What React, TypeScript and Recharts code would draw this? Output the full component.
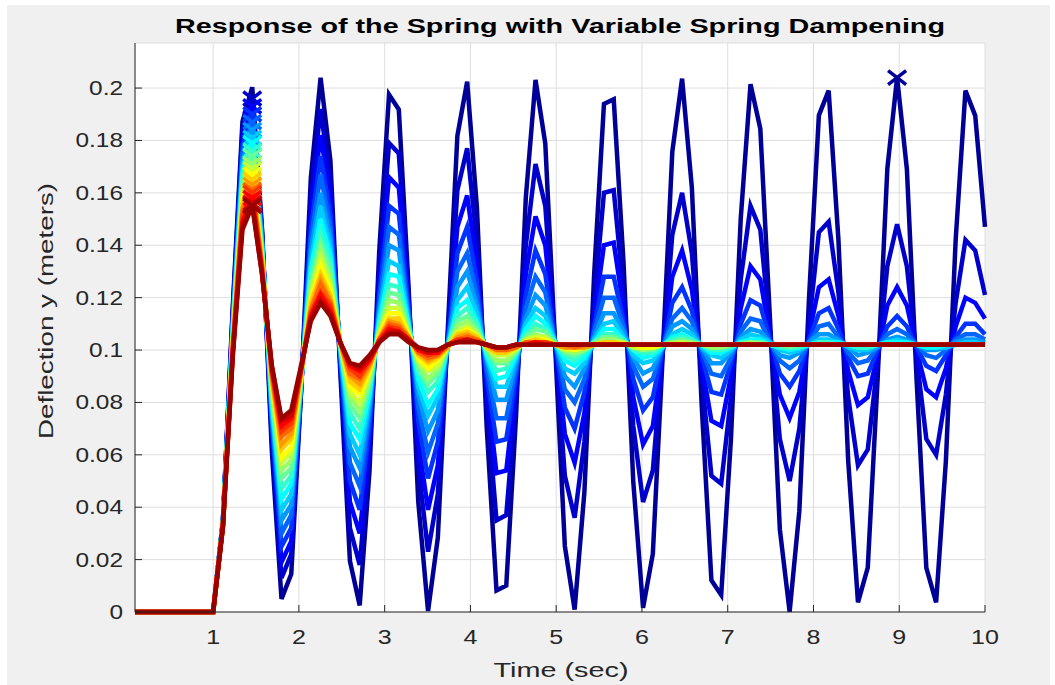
import React from 'react';
import { LineChart, Line, XAxis, YAxis, CartesianGrid } from 'recharts';

// sample times (sec)
const time = [
  0.089, 1.0, 1.114, 1.228, 1.342, 1.456, 1.57, 1.684, 1.797, 1.911, 2.025,
  2.139, 2.253, 2.367, 2.481, 2.595, 2.709, 2.823, 2.937, 3.051, 3.165,
  3.278, 3.392, 3.506, 3.62, 3.734, 3.848, 3.962, 4.076, 4.19, 4.304,
  4.418, 4.532, 4.646, 4.759, 4.873, 4.987, 5.101, 5.215, 5.329, 5.443,
  5.557, 5.671, 5.785, 5.899, 6.013, 6.127, 6.241, 6.354, 6.468, 6.582,
  6.696, 6.81, 6.924, 7.038, 7.152, 7.266, 7.38, 7.494, 7.608, 7.722,
  7.835, 7.949, 8.063, 8.177, 8.291, 8.405, 8.519, 8.633, 8.747, 8.861,
  8.975, 9.089, 9.203, 9.316, 9.43, 9.544, 9.658, 9.772, 9.886, 10.0,
];

// deflection (m), one array per damping value, least damped first
const d01 = [
  0, 0, 0.0349, 0.1157, 0.1872, 0.2003, 0.1463, 0.0619, 0.005, 0.0145, 0.0838,
  0.1656, 0.2039, 0.1725, 0.0928, 0.0195, 0.0025, 0.0537, 0.1379, 0.1975, 0.1918,
  0.1246, 0.042, 0.0004, 0.0283, 0.1066, 0.1818, 0.2024, 0.1543, 0.0705, 0.0082,
  0.0101, 0.0749, 0.1582, 0.2031, 0.1788, 0.102, 0.0252, 0.0009, 0.0458, 0.1291,
  0.1939, 0.1957, 0.1335, 0.0497, 0.0016, 0.0222, 0.0974, 0.1757, 0.2036, 0.162,
  0.0793, 0.0121, 0.0065, 0.0662, 0.1503, 0.2015, 0.1845, 0.1111, 0.0315, 0.0001,
  0.0385, 0.1203, 0.1896, 0.199, 0.1421, 0.0577, 0.0037, 0.0169, 0.0883, 0.1691,
  0.204, 0.1691, 0.0883, 0.0168, 0.0037, 0.0577, 0.1421, 0.199, 0.1895, 0.147,
];
const d02 = [
  0, 0, 0.035, 0.114, 0.184, 0.196, 0.145, 0.066, 0.013, 0.022, 0.084,
  0.158, 0.192, 0.164, 0.095, 0.032, 0.018, 0.061, 0.13, 0.179, 0.175,
  0.121, 0.056, 0.023, 0.045, 0.104, 0.161, 0.177, 0.141, 0.08, 0.035,
  0.037, 0.082, 0.14, 0.171, 0.155, 0.103, 0.052, 0.036, 0.065, 0.118,
  0.16, 0.161, 0.122, 0.071, 0.042, 0.054, 0.099, 0.144, 0.16, 0.137,
  0.09, 0.052, 0.049, 0.082, 0.127, 0.155, 0.146, 0.107, 0.066, 0.05,
  0.07, 0.11, 0.145, 0.149, 0.122, 0.082, 0.056, 0.062, 0.095, 0.132,
  0.148, 0.132, 0.097, 0.066, 0.06, 0.083, 0.118, 0.142, 0.138, 0.121,
];
const d03 = [
  0, 0, 0.034, 0.113, 0.18, 0.193, 0.144, 0.069, 0.019, 0.027, 0.085,
  0.152, 0.182, 0.158, 0.097, 0.042, 0.03, 0.066, 0.125, 0.166, 0.162,
  0.118, 0.065, 0.039, 0.056, 0.103, 0.147, 0.159, 0.132, 0.086, 0.053,
  0.054, 0.087, 0.129, 0.151, 0.14, 0.103, 0.068, 0.057, 0.076, 0.113,
  0.14, 0.141, 0.116, 0.082, 0.064, 0.071, 0.099, 0.128, 0.138, 0.123,
  0.095, 0.073, 0.071, 0.09, 0.116, 0.132, 0.127, 0.105, 0.083, 0.074,
  0.084, 0.106, 0.124, 0.127, 0.113, 0.092, 0.079, 0.082, 0.098, 0.117,
  0.124, 0.117, 0.1, 0.085, 0.082, 0.093, 0.109, 0.12, 0.118, 0.112,
];
const d04 = [
  0, 0, 0.034, 0.111, 0.178, 0.19, 0.143, 0.072, 0.025, 0.032, 0.086,
  0.146, 0.174, 0.152, 0.098, 0.05, 0.039, 0.071, 0.121, 0.155, 0.152,
  0.116, 0.073, 0.051, 0.065, 0.102, 0.137, 0.147, 0.126, 0.09, 0.065,
  0.066, 0.09, 0.121, 0.138, 0.129, 0.103, 0.078, 0.07, 0.084, 0.109,
  0.128, 0.128, 0.111, 0.089, 0.077, 0.082, 0.1, 0.118, 0.124, 0.115,
  0.098, 0.084, 0.083, 0.095, 0.11, 0.119, 0.117, 0.104, 0.091, 0.086,
  0.092, 0.104, 0.114, 0.116, 0.108, 0.097, 0.09, 0.091, 0.1, 0.109,
  0.113, 0.109, 0.101, 0.094, 0.092, 0.098, 0.105, 0.11, 0.11, 0.106,
];
const d05 = [
  0, 0, 0.034, 0.11, 0.175, 0.187, 0.142, 0.074, 0.03, 0.037, 0.086,
  0.142, 0.167, 0.147, 0.099, 0.057, 0.048, 0.075, 0.118, 0.147, 0.144,
  0.114, 0.078, 0.061, 0.072, 0.102, 0.13, 0.137, 0.121, 0.093, 0.074,
  0.074, 0.093, 0.116, 0.128, 0.122, 0.103, 0.085, 0.08, 0.089, 0.107,
  0.12, 0.12, 0.109, 0.094, 0.086, 0.089, 0.101, 0.112, 0.116, 0.111,
  0.1, 0.091, 0.09, 0.097, 0.107, 0.112, 0.111, 0.103, 0.096, 0.093,
  0.096, 0.103, 0.109, 0.11, 0.105, 0.099, 0.095, 0.096, 0.101, 0.106,
  0.108, 0.106, 0.102, 0.098, 0.097, 0.1, 0.104, 0.106, 0.106, 0.104,
];
const d06 = [
  0, 0, 0.034, 0.109, 0.172, 0.184, 0.141, 0.076, 0.035, 0.041, 0.087,
  0.138, 0.16, 0.143, 0.1, 0.063, 0.055, 0.078, 0.115, 0.14, 0.138,
  0.112, 0.083, 0.069, 0.077, 0.102, 0.124, 0.13, 0.117, 0.096, 0.081,
  0.081, 0.095, 0.112, 0.121, 0.117, 0.103, 0.09, 0.086, 0.093, 0.105,
  0.114, 0.114, 0.107, 0.097, 0.091, 0.093, 0.101, 0.109, 0.111, 0.108,
  0.101, 0.095, 0.095, 0.099, 0.105, 0.108, 0.107, 0.103, 0.098, 0.097,
  0.099, 0.103, 0.106, 0.106, 0.104, 0.101, 0.098, 0.099, 0.101, 0.104,
  0.105, 0.104, 0.102, 0.1, 0.1, 0.101, 0.103, 0.104, 0.104, 0.103,
];
const d07 = [
  0, 0, 0.034, 0.108, 0.17, 0.181, 0.14, 0.078, 0.039, 0.045, 0.087,
  0.134, 0.155, 0.139, 0.101, 0.068, 0.06, 0.081, 0.113, 0.134, 0.132,
  0.111, 0.086, 0.075, 0.082, 0.101, 0.119, 0.124, 0.114, 0.097, 0.086,
  0.086, 0.097, 0.11, 0.116, 0.113, 0.103, 0.093, 0.091, 0.095, 0.104,
  0.11, 0.111, 0.105, 0.098, 0.095, 0.096, 0.101, 0.106, 0.108, 0.106,
  0.101, 0.098, 0.097, 0.1, 0.104, 0.106, 0.105, 0.103, 0.1, 0.099,
  0.1, 0.102, 0.104, 0.104, 0.103, 0.101, 0.1, 0.1, 0.102, 0.103,
  0.104, 0.103, 0.102, 0.101, 0.101, 0.101, 0.102, 0.103, 0.103, 0.102,
];
const d08 = [
  0, 0, 0.034, 0.107, 0.168, 0.179, 0.139, 0.08, 0.043, 0.049, 0.088,
  0.131, 0.15, 0.136, 0.102, 0.072, 0.066, 0.083, 0.111, 0.129, 0.128,
  0.11, 0.089, 0.079, 0.085, 0.101, 0.116, 0.119, 0.111, 0.098, 0.089,
  0.09, 0.098, 0.108, 0.113, 0.11, 0.103, 0.096, 0.094, 0.097, 0.103,
  0.108, 0.108, 0.104, 0.1, 0.097, 0.098, 0.101, 0.105, 0.106, 0.104,
  0.102, 0.099, 0.099, 0.101, 0.103, 0.104, 0.104, 0.102, 0.101, 0.1,
  0.101, 0.102, 0.103, 0.103, 0.103, 0.102, 0.101, 0.101, 0.102, 0.103,
  0.103, 0.103, 0.102, 0.101, 0.101, 0.102, 0.102, 0.102, 0.102, 0.102,
];
const d09 = [
  0, 0, 0.033, 0.106, 0.166, 0.176, 0.138, 0.082, 0.047, 0.052, 0.088,
  0.128, 0.145, 0.133, 0.102, 0.076, 0.07, 0.086, 0.109, 0.125, 0.124,
  0.109, 0.092, 0.084, 0.088, 0.101, 0.113, 0.116, 0.11, 0.099, 0.092,
  0.093, 0.099, 0.106, 0.11, 0.108, 0.103, 0.098, 0.096, 0.099, 0.103,
  0.106, 0.106, 0.104, 0.1, 0.099, 0.099, 0.102, 0.104, 0.105, 0.104,
  0.102, 0.1, 0.1, 0.101, 0.103, 0.103, 0.103, 0.102, 0.101, 0.101,
  0.101, 0.102, 0.103, 0.103, 0.102, 0.102, 0.101, 0.101, 0.102, 0.102,
  0.102, 0.102, 0.102, 0.102, 0.102, 0.102, 0.102, 0.102, 0.102, 0.102,
];
const d10 = [
  0, 0, 0.033, 0.105, 0.163, 0.174, 0.137, 0.084, 0.051, 0.055, 0.089,
  0.126, 0.141, 0.13, 0.102, 0.079, 0.074, 0.087, 0.108, 0.122, 0.121,
  0.108, 0.093, 0.087, 0.091, 0.101, 0.111, 0.113, 0.108, 0.1, 0.095,
  0.095, 0.099, 0.105, 0.108, 0.107, 0.103, 0.099, 0.098, 0.1, 0.103,
  0.105, 0.105, 0.103, 0.101, 0.1, 0.1, 0.102, 0.103, 0.104, 0.103,
  0.102, 0.101, 0.101, 0.102, 0.102, 0.103, 0.103, 0.102, 0.102, 0.101,
  0.102, 0.102, 0.102, 0.102, 0.102, 0.102, 0.102, 0.102, 0.102, 0.102,
  0.102, 0.102, 0.102, 0.102, 0.102, 0.102, 0.102, 0.102, 0.102, 0.102,
];
const d11 = [
  0, 0, 0.033, 0.104, 0.161, 0.171, 0.136, 0.085, 0.054, 0.058, 0.089,
  0.123, 0.138, 0.127, 0.103, 0.082, 0.077, 0.089, 0.107, 0.119, 0.118,
  0.107, 0.095, 0.089, 0.093, 0.101, 0.109, 0.111, 0.107, 0.101, 0.096,
  0.096, 0.1, 0.104, 0.106, 0.105, 0.102, 0.1, 0.099, 0.1, 0.102,
  0.104, 0.104, 0.103, 0.101, 0.1, 0.101, 0.102, 0.103, 0.103, 0.103,
  0.102, 0.101, 0.101, 0.102, 0.102, 0.103, 0.102, 0.102, 0.102, 0.102,
  0.102, 0.102, 0.102, 0.102, 0.102, 0.102, 0.102, 0.102, 0.102, 0.102,
  0.102, 0.102, 0.102, 0.102, 0.102, 0.102, 0.102, 0.102, 0.102, 0.102,
];
const d12 = [
  0, 0, 0.033, 0.103, 0.16, 0.169, 0.135, 0.087, 0.057, 0.061, 0.09,
  0.121, 0.135, 0.125, 0.103, 0.084, 0.08, 0.091, 0.106, 0.116, 0.116,
  0.106, 0.096, 0.092, 0.094, 0.101, 0.107, 0.109, 0.106, 0.101, 0.098,
  0.098, 0.1, 0.104, 0.105, 0.105, 0.102, 0.1, 0.1, 0.101, 0.102,
  0.103, 0.103, 0.103, 0.101, 0.101, 0.101, 0.102, 0.102, 0.103, 0.102,
  0.102, 0.102, 0.102, 0.102, 0.102, 0.102, 0.102, 0.102, 0.102, 0.102,
  0.102, 0.102, 0.102, 0.102, 0.102, 0.102, 0.102, 0.102, 0.102, 0.102,
  0.102, 0.102, 0.102, 0.102, 0.102, 0.102, 0.102, 0.102, 0.102, 0.102,
];
const d13 = [
  0, 0, 0.033, 0.102, 0.158, 0.167, 0.134, 0.088, 0.059, 0.063, 0.091,
  0.119, 0.132, 0.123, 0.103, 0.086, 0.083, 0.092, 0.106, 0.114, 0.114,
  0.106, 0.097, 0.093, 0.096, 0.101, 0.106, 0.108, 0.105, 0.101, 0.099,
  0.099, 0.101, 0.103, 0.104, 0.104, 0.102, 0.101, 0.1, 0.101, 0.102,
  0.103, 0.103, 0.102, 0.102, 0.101, 0.101, 0.102, 0.102, 0.102, 0.102,
  0.102, 0.102, 0.102, 0.102, 0.102, 0.102, 0.102, 0.102, 0.102, 0.102,
  0.102, 0.102, 0.102, 0.102, 0.102, 0.102, 0.102, 0.102, 0.102, 0.102,
  0.102, 0.102, 0.102, 0.102, 0.102, 0.102, 0.102, 0.102, 0.102, 0.102,
];
const d14 = [
  0, 0, 0.033, 0.102, 0.156, 0.165, 0.133, 0.089, 0.062, 0.066, 0.091,
  0.118, 0.129, 0.121, 0.103, 0.088, 0.085, 0.093, 0.105, 0.112, 0.112,
  0.105, 0.098, 0.095, 0.097, 0.101, 0.106, 0.107, 0.105, 0.101, 0.099,
  0.099, 0.101, 0.103, 0.104, 0.103, 0.102, 0.101, 0.101, 0.101, 0.102,
  0.103, 0.103, 0.102, 0.102, 0.102, 0.102, 0.102, 0.102, 0.102, 0.102,
  0.102, 0.102, 0.102, 0.102, 0.102, 0.102, 0.102, 0.102, 0.102, 0.102,
  0.102, 0.102, 0.102, 0.102, 0.102, 0.102, 0.102, 0.102, 0.102, 0.102,
  0.102, 0.102, 0.102, 0.102, 0.102, 0.102, 0.102, 0.102, 0.102, 0.102,
];
const d15 = [
  0, 0, 0.033, 0.101, 0.154, 0.163, 0.133, 0.09, 0.064, 0.068, 0.092,
  0.116, 0.127, 0.119, 0.103, 0.09, 0.087, 0.094, 0.104, 0.111, 0.11,
  0.105, 0.099, 0.096, 0.098, 0.101, 0.105, 0.106, 0.104, 0.102, 0.1,
  0.1, 0.101, 0.103, 0.103, 0.103, 0.102, 0.101, 0.101, 0.101, 0.102,
  0.102, 0.102, 0.102, 0.102, 0.102, 0.102, 0.102, 0.102, 0.102, 0.102,
  0.102, 0.102, 0.102, 0.102, 0.102, 0.102, 0.102, 0.102, 0.102, 0.102,
  0.102, 0.102, 0.102, 0.102, 0.102, 0.102, 0.102, 0.102, 0.102, 0.102,
  0.102, 0.102, 0.102, 0.102, 0.102, 0.102, 0.102, 0.102, 0.102, 0.102,
];
const d16 = [
  0, 0, 0.033, 0.1, 0.153, 0.161, 0.132, 0.091, 0.067, 0.07, 0.092,
  0.115, 0.125, 0.118, 0.103, 0.091, 0.089, 0.095, 0.104, 0.11, 0.109,
  0.105, 0.099, 0.097, 0.098, 0.102, 0.104, 0.105, 0.104, 0.102, 0.1,
  0.1, 0.101, 0.103, 0.103, 0.103, 0.102, 0.102, 0.101, 0.102, 0.102,
  0.102, 0.102, 0.102, 0.102, 0.102, 0.102, 0.102, 0.102, 0.102, 0.102,
  0.102, 0.102, 0.102, 0.102, 0.102, 0.102, 0.102, 0.102, 0.102, 0.102,
  0.102, 0.102, 0.102, 0.102, 0.102, 0.102, 0.102, 0.102, 0.102, 0.102,
  0.102, 0.102, 0.102, 0.102, 0.102, 0.102, 0.102, 0.102, 0.102, 0.102,
];
const d17 = [
  0, 0, 0.033, 0.099, 0.151, 0.16, 0.131, 0.092, 0.069, 0.072, 0.092,
  0.114, 0.122, 0.117, 0.103, 0.093, 0.09, 0.096, 0.104, 0.109, 0.108,
  0.104, 0.1, 0.098, 0.099, 0.102, 0.104, 0.104, 0.103, 0.102, 0.101,
  0.101, 0.102, 0.102, 0.103, 0.103, 0.102, 0.102, 0.102, 0.102, 0.102,
  0.102, 0.102, 0.102, 0.102, 0.102, 0.102, 0.102, 0.102, 0.102, 0.102,
  0.102, 0.102, 0.102, 0.102, 0.102, 0.102, 0.102, 0.102, 0.102, 0.102,
  0.102, 0.102, 0.102, 0.102, 0.102, 0.102, 0.102, 0.102, 0.102, 0.102,
  0.102, 0.102, 0.102, 0.102, 0.102, 0.102, 0.102, 0.102, 0.102, 0.102,
];
const d18 = [
  0, 0, 0.033, 0.099, 0.149, 0.158, 0.13, 0.093, 0.071, 0.074, 0.093,
  0.113, 0.121, 0.115, 0.103, 0.094, 0.092, 0.096, 0.103, 0.108, 0.107,
  0.104, 0.1, 0.099, 0.099, 0.102, 0.103, 0.104, 0.103, 0.102, 0.101,
  0.101, 0.102, 0.102, 0.103, 0.102, 0.102, 0.102, 0.102, 0.102, 0.102,
  0.102, 0.102, 0.102, 0.102, 0.102, 0.102, 0.102, 0.102, 0.102, 0.102,
  0.102, 0.102, 0.102, 0.102, 0.102, 0.102, 0.102, 0.102, 0.102, 0.102,
  0.102, 0.102, 0.102, 0.102, 0.102, 0.102, 0.102, 0.102, 0.102, 0.102,
  0.102, 0.102, 0.102, 0.102, 0.102, 0.102, 0.102, 0.102, 0.102, 0.102,
];
const d19 = [
  0, 0, 0.033, 0.098, 0.148, 0.156, 0.129, 0.094, 0.073, 0.075, 0.093,
  0.112, 0.119, 0.114, 0.103, 0.095, 0.093, 0.097, 0.103, 0.107, 0.107,
  0.104, 0.101, 0.099, 0.1, 0.102, 0.103, 0.104, 0.103, 0.102, 0.101,
  0.101, 0.102, 0.102, 0.102, 0.102, 0.102, 0.102, 0.102, 0.102, 0.102,
  0.102, 0.102, 0.102, 0.102, 0.102, 0.102, 0.102, 0.102, 0.102, 0.102,
  0.102, 0.102, 0.102, 0.102, 0.102, 0.102, 0.102, 0.102, 0.102, 0.102,
  0.102, 0.102, 0.102, 0.102, 0.102, 0.102, 0.102, 0.102, 0.102, 0.102,
  0.102, 0.102, 0.102, 0.102, 0.102, 0.102, 0.102, 0.102, 0.102, 0.102,
];
const d20 = [
  0, 0, 0.032, 0.097, 0.146, 0.155, 0.129, 0.094, 0.074, 0.077, 0.094,
  0.111, 0.118, 0.113, 0.103, 0.095, 0.094, 0.098, 0.103, 0.106, 0.106,
  0.103, 0.101, 0.1, 0.1, 0.102, 0.103, 0.103, 0.103, 0.102, 0.101,
  0.101, 0.102, 0.102, 0.102, 0.102, 0.102, 0.102, 0.102, 0.102, 0.102,
  0.102, 0.102, 0.102, 0.102, 0.102, 0.102, 0.102, 0.102, 0.102, 0.102,
  0.102, 0.102, 0.102, 0.102, 0.102, 0.102, 0.102, 0.102, 0.102, 0.102,
  0.102, 0.102, 0.102, 0.102, 0.102, 0.102, 0.102, 0.102, 0.102, 0.102,
  0.102, 0.102, 0.102, 0.102, 0.102, 0.102, 0.102, 0.102, 0.102, 0.102,
];

const series = [d01, d02, d03, d04, d05, d06, d07, d08, d09, d10, d11, d12, d13, d14, d15, d16, d17, d18, d19, d20];

// jet(20)
const colors = [
  '#000099', '#0000cc', '#0000ff', '#0033ff', '#0066ff', '#0099ff', '#00ccff', '#00ffff', '#33ffcc', '#66ff99',
  '#99ff66', '#ccff33', '#ffff00', '#ffcc00', '#ff9900', '#ff6600', '#ff3300', '#ff0000', '#cc0000', '#990000',
];

const xTicks = [1, 2, 3, 4, 5, 6, 7, 8, 9, 10];
const yTicks = [0, 0.02, 0.04, 0.06, 0.08, 0.1, 0.12, 0.14, 0.16, 0.18, 0.2];

const W = 1055;
const H = 685;
const PLOT_LEFT = 135;
const PLOT_TOP = 43;
const PLOT_RIGHT = 985;
const PLOT_BOTTOM = 612;
const FONT = '"Liberation Sans", Arial, Helvetica, sans-serif';
const TEXT = '#262626';

const rows = time.map((t, i) => {
  const row: Record<string, number> = { t };
  series.forEach((s, j) => {
    row['s' + j] = s[i];
  });
  return row;
});

// index of the highest point of each response, marked with an x
const peakIndex = series.map((s) => s.indexOf(Math.max(...s)));

const makeDot = (j: number) => (props: any) => {
  const { cx, cy, index } = props;
  if (index !== peakIndex[j] || cx == null || cy == null) {
    return <g key={`d${j}-${index}`} />;
  }
  return (
    <g key={`d${j}-${index}`}>
      <line x1={cx - 9} y1={cy - 7} x2={cx + 9} y2={cy + 7} stroke={colors[j]} strokeWidth={3.5} />
      <line x1={cx - 9} y1={cy + 7} x2={cx + 9} y2={cy - 7} stroke={colors[j]} strokeWidth={3.5} />
    </g>
  );
};

const XTick = (props: any) => {
  const { x, payload } = props;
  return (
    <g>
      <line x1={x} x2={x} y1={PLOT_BOTTOM} y2={PLOT_BOTTOM - 7} stroke={TEXT} />
      <text
        transform={`translate(${x},644) scale(1.25,1)`}
        textAnchor="middle"
        fontSize={20}
        fontFamily={FONT}
        fill={TEXT}
      >
        {payload.value}
      </text>
    </g>
  );
};

const YTick = (props: any) => {
  const { y, payload } = props;
  const label = String(parseFloat(Number(payload.value).toFixed(2)));
  return (
    <g>
      <line x1={PLOT_LEFT} x2={PLOT_LEFT + 7} y1={y} y2={y} stroke={TEXT} />
      <text
        transform={`translate(123,${y + 7}) scale(1.22,1)`}
        textAnchor="end"
        fontSize={20}
        fontFamily={FONT}
        fill={TEXT}
      >
        {label}
      </text>
    </g>
  );
};

const App: React.FC = () => {
  return (
    <div style={{ position: 'absolute', left: 0, top: 0, width: W, height: H, background: '#ffffff' }}>
      <div style={{ position: 'absolute', left: 7, top: 5, width: 1043, height: 680, background: '#f0f0f0' }} />
      <div style={{ position: 'absolute', left: 0, top: 0 }}>
        <LineChart
          width={W}
          height={H}
          data={rows}
          margin={{ top: PLOT_TOP, right: W - PLOT_RIGHT, bottom: 0, left: 0 }}
        >
          <CartesianGrid fill="#ffffff" stroke="#dedede" strokeWidth={1} />
          <XAxis
            dataKey="t"
            type="number"
            domain={[0.089, 10]}
            ticks={xTicks}
            height={H - PLOT_BOTTOM}
            axisLine={{ stroke: TEXT }}
            tickLine={false}
            tick={<XTick />}
          />
          <YAxis
            type="number"
            domain={[0, 0.2172]}
            ticks={yTicks}
            width={PLOT_LEFT}
            axisLine={{ stroke: TEXT }}
            tickLine={false}
            tick={<YTick />}
          />
          {series.map((_, j) => (
            <Line
              key={j}
              dataKey={'s' + j}
              type="linear"
              stroke={colors[j]}
              strokeWidth={4.5}
              dot={makeDot(j)}
              activeDot={false}
              isAnimationActive={false}
            />
          ))}
        </LineChart>
      </div>
      <svg
        width={W}
        height={H}
        style={{ position: 'absolute', left: 0, top: 0, pointerEvents: 'none' }}
      >
        <text
          x={560}
          y={33}
          textAnchor="middle"
          fontSize={20}
          fontWeight="bold"
          fontFamily={FONT}
          fill="#000000"
          textLength={770}
          lengthAdjust="spacingAndGlyphs"
        >
          Response of the Spring with Variable Spring Dampening
        </text>
        <text
          x={561}
          y={677}
          textAnchor="middle"
          fontSize={21}
          fontFamily={FONT}
          fill={TEXT}
          textLength={135}
          lengthAdjust="spacingAndGlyphs"
        >
          Time (sec)
        </text>
        <text
          transform="translate(53,311) rotate(-90)"
          x={0}
          y={0}
          textAnchor="middle"
          fontSize={21}
          fontFamily={FONT}
          fill={TEXT}
          textLength={256}
          lengthAdjust="spacingAndGlyphs"
        >
          Deflection y (meters)
        </text>
      </svg>
    </div>
  );
};

export default App;
